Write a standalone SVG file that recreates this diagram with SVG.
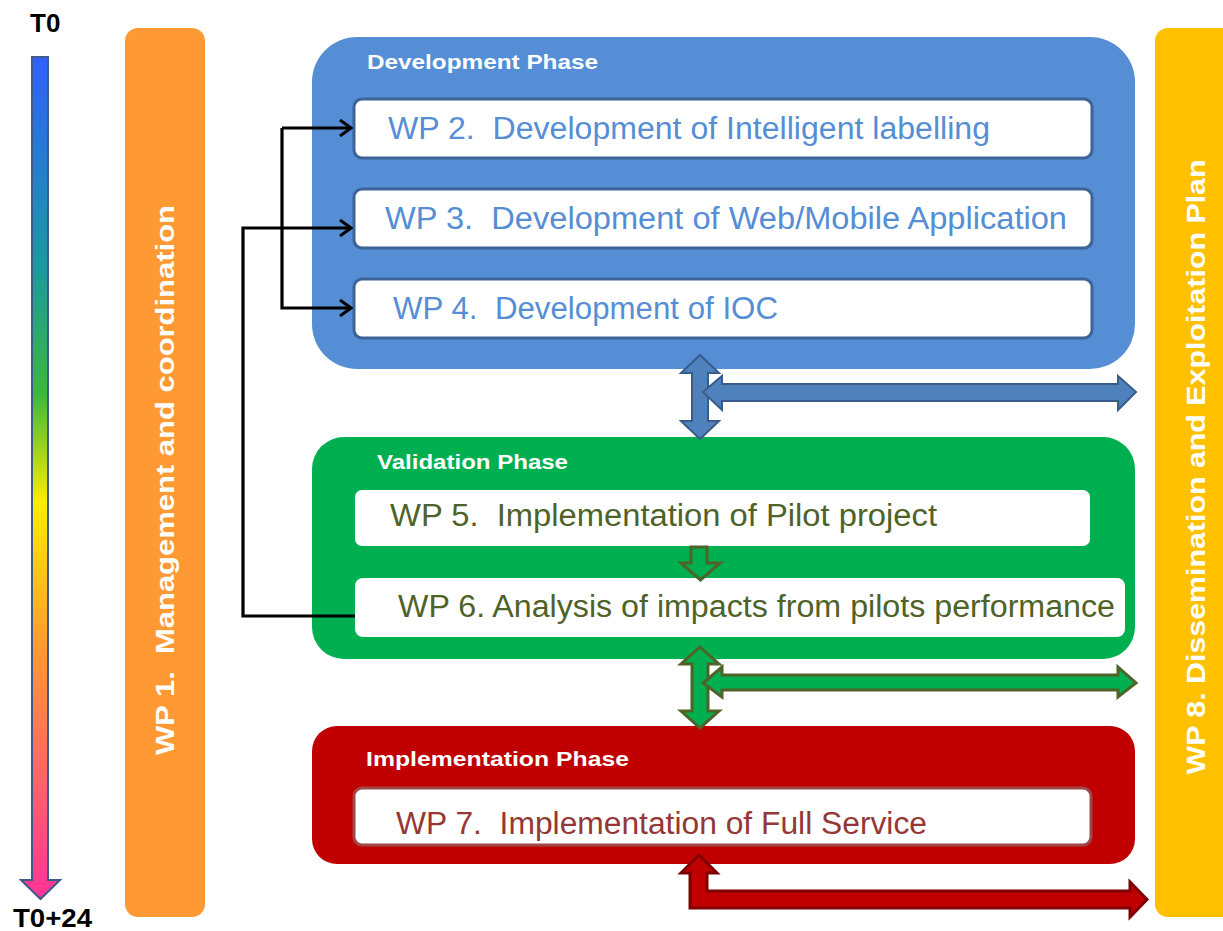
<svg xmlns="http://www.w3.org/2000/svg" width="1223" height="931" viewBox="0 0 1223 931">
<defs>
<style>
text{white-space:pre}
.bar{font-family:"Liberation Sans",Arial,sans-serif;font-weight:bold;font-size:25px;fill:#fff}
.ph{font-family:"Liberation Sans",Arial,sans-serif;font-weight:bold;font-size:21px;fill:#fff}
.wp{font-family:"Liberation Sans",Arial,sans-serif;font-size:31px}
.tl{font-family:"Liberation Sans",Arial,sans-serif;font-weight:bold;font-size:26px;fill:#000}
.conn{fill:none;stroke:#000;stroke-width:3.2;stroke-linejoin:miter}
</style>
<linearGradient id="tg" gradientUnits="userSpaceOnUse" x1="0" y1="57" x2="0" y2="899">
<stop offset="0" stop-color="#3060ff"/>
<stop offset="0.25" stop-color="#1b9a9f"/>
<stop offset="0.4" stop-color="#3cb83c"/>
<stop offset="0.53" stop-color="#ffee00"/>
<stop offset="0.7" stop-color="#ff9a30"/>
<stop offset="1" stop-color="#ff3399"/>
</linearGradient>
<marker id="ah" viewBox="0 0 14 18" refX="12" refY="9" markerWidth="14" markerHeight="18" markerUnits="userSpaceOnUse" orient="auto">
<path d="M1,1 L12,9 L1,17" fill="none" stroke="#000" stroke-width="3"/>
</marker>
</defs>

<g id="timeline">
<path d="M32,57 H48 V880 H60 L40.5,899 L21,880 H32 Z" fill="url(#tg)" stroke="#3d5a8a" stroke-width="2"/>
<text class="tl" x="30" y="32">T0</text>
<text class="tl" x="13" y="927" textLength="79" lengthAdjust="spacingAndGlyphs">T0+24</text>
</g>

<g id="wp1">
<rect x="125" y="28" width="80" height="889" rx="13" fill="#ff9933"/>
<text class="bar" transform="translate(174,480) rotate(-90)" text-anchor="middle" textLength="550" lengthAdjust="spacingAndGlyphs">WP 1.  Management and coordination</text>
</g>

<g id="wp8">
<rect x="1155" y="28" width="90" height="889" rx="13" fill="#ffc000"/>
<text class="bar" transform="translate(1205,467) rotate(-90)" text-anchor="middle" textLength="615" lengthAdjust="spacingAndGlyphs">WP 8. Dissemination and Exploitation Plan</text>
</g>

<g id="dev-phase">
<rect x="312" y="37" width="823" height="332" rx="45" fill="#558ed5"/>
<text class="ph" x="367" y="69" textLength="231" lengthAdjust="spacingAndGlyphs">Development Phase</text>
</g>
<g id="wp2">
<rect x="354" y="99" width="738" height="59" rx="8" fill="#fff" stroke="#3d6499" stroke-width="3"/>
<text class="wp" x="388" y="139" fill="#558ed5" textLength="602" lengthAdjust="spacingAndGlyphs">WP 2.  Development of Intelligent labelling</text>
</g>
<g id="wp3">
<rect x="354" y="189" width="738" height="59" rx="8" fill="#fff" stroke="#3d6499" stroke-width="3"/>
<text class="wp" x="385" y="229" fill="#558ed5" textLength="682" lengthAdjust="spacingAndGlyphs">WP 3.  Development of Web/Mobile Application</text>
</g>
<g id="wp4">
<rect x="354" y="279" width="738" height="59" rx="8" fill="#fff" stroke="#3d6499" stroke-width="3"/>
<text class="wp" x="393" y="319" fill="#558ed5" textLength="385" lengthAdjust="spacingAndGlyphs">WP 4.  Development of IOC</text>
</g>

<g id="val-phase">
<rect x="312" y="437" width="823" height="222" rx="32" fill="#00b050"/>
<text class="ph" x="377" y="469" textLength="191" lengthAdjust="spacingAndGlyphs">Validation Phase</text>
</g>
<g id="wp5">
<rect x="355" y="490" width="735" height="56" rx="7" fill="#fff"/>
<text class="wp" x="390" y="526" fill="#4f6228" textLength="547" lengthAdjust="spacingAndGlyphs">WP 5.  Implementation of Pilot project</text>
</g>
<g id="wp6">
<rect x="355" y="578" width="770" height="59" rx="8" fill="#fff"/>
<text class="wp" x="398" y="617" fill="#4f6228" textLength="717" lengthAdjust="spacingAndGlyphs">WP 6. Analysis of impacts from pilots performance</text>
</g>

<g id="impl-phase">
<rect x="312" y="726" width="823" height="138" rx="25" fill="#c00000"/>
<text class="ph" x="366" y="766" textLength="263" lengthAdjust="spacingAndGlyphs">Implementation Phase</text>
</g>
<g id="wp7">
<rect x="354" y="788" width="737" height="57" rx="8" fill="#fff" stroke="#a04848" stroke-width="3"/>
<text class="wp" x="396" y="834" fill="#953735" textLength="531" lengthAdjust="spacingAndGlyphs">WP 7.  Implementation of Full Service</text>
</g>

<g id="connectors">
<path class="conn" d="M282,128 H351" marker-end="url(#ah)"/>
<path class="conn" d="M282,128 V308 H351" marker-end="url(#ah)"/>
<path class="conn" d="M355,616 H243 V228 H351" marker-end="url(#ah)"/>
<path d="M691,547 H707 V563 H720 L700.5,580 L681,563 H691 Z" fill="#00b050" stroke="#4f6228" stroke-width="3"/>
<path d="M700,355 L719,373 H708 V421 H719 L700,439 L681,421 H692 V373 H681 Z" fill="#4f81bd" stroke="#385d8a" stroke-width="2"/>
<path d="M703,392 L722,376 V384 H1118 V376 L1136,392 L1118,410 V401 H722 V410 Z" fill="#4f81bd" stroke="#385d8a" stroke-width="2"/>
<path d="M700,647 L719,664 H708 V711 H719 L700,728 L681,711 H692 V664 H681 Z" fill="#00b050" stroke="#4f6228" stroke-width="3"/>
<path d="M703,683 L722,667 V675 H1118 V667 L1136,683 L1118,697 V690 H722 V697 Z" fill="#00b050" stroke="#4f6228" stroke-width="3"/>
<path d="M699,855 L717,873 H707 V891 H1130 V882 L1147,899.5 L1130,917 V908 H690 V873 H681 Z" fill="#c00000" stroke="#7f0000" stroke-width="3"/>
</g>
</svg>
